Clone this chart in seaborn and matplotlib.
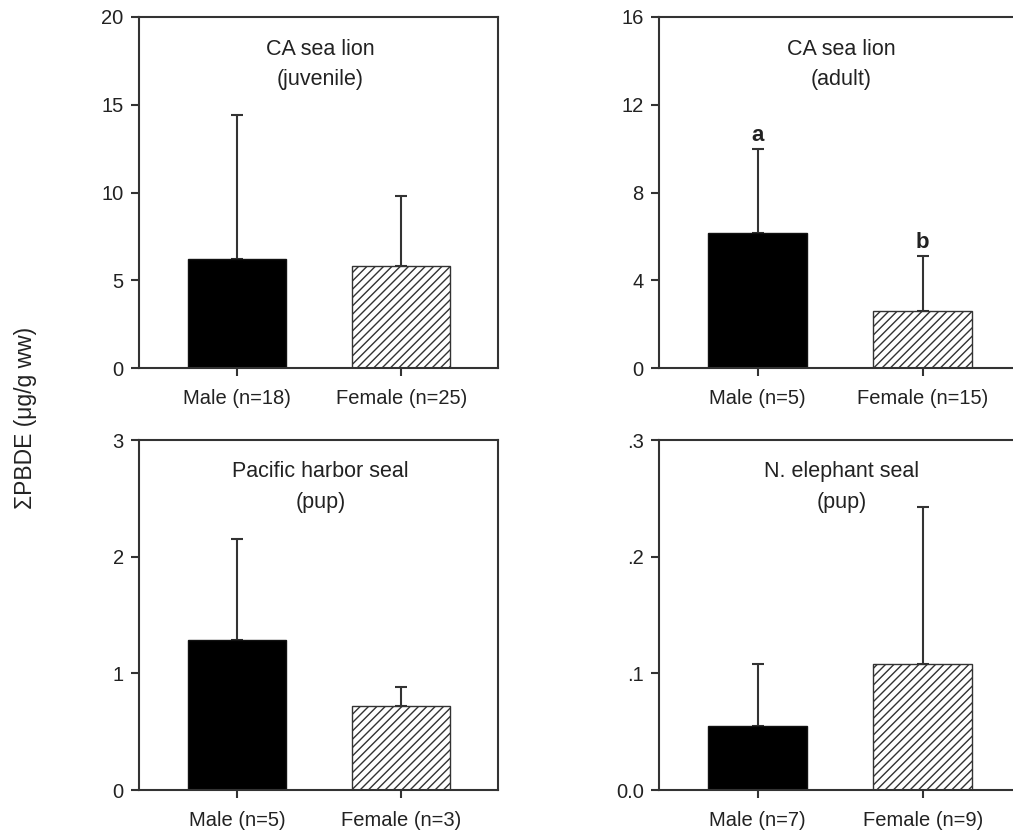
import matplotlib
matplotlib.use("Agg")
import matplotlib.pyplot as plt
import seaborn as sns
import pandas as pd

sns.set_style("white")
plt.rcParams['font.family'] = ['Liberation Sans', 'DejaVu Sans']
plt.rcParams['hatch.color'] = '#444444'
plt.rcParams['hatch.linewidth'] = 1.0

# ---- data ----
sexes = ["Male", "Female"]
panel_titles = ["CA sea lion\n(juvenile)", "CA sea lion\n(adult)",
                "Pacific harbor seal\n(pup)", "N. elephant seal\n(pup)"]
n_juv = [18, 25]
n_adult = [5, 15]
n_harbor = [5, 3]
n_eseal = [7, 9]
mean_juv = [6.2, 5.8]
err_juv = [14.4, 9.8]          # top of error bar
mean_adult = [6.15, 2.6]
err_adult = [10.0, 5.1]
mean_harbor = [1.29, 0.72]
err_harbor = [2.15, 0.88]
mean_eseal = [0.055, 0.108]
err_eseal = [0.108, 0.243]
sig_adult = ["a", "b"]

ylims = [(0, 20), (0, 16), (0, 3), (0, 0.3)]
yticks = [[0, 5, 10, 15, 20], [0, 4, 8, 12, 16], [0, 1, 2, 3], [0, 0.1, 0.2, 0.3]]
yticklabels = [["0", "5", "10", "15", "20"], ["0", "4", "8", "12", "16"],
               ["0", "1", "2", "3"], ["0.0", ".1", ".2", ".3"]]

panels = [(n_juv, mean_juv, err_juv), (n_adult, mean_adult, err_adult),
          (n_harbor, mean_harbor, err_harbor), (n_eseal, mean_eseal, err_eseal)]

W, H = 1013, 835
fig = plt.figure(figsize=(W / 100, H / 100), dpi=100)

# axes pixel boxes: left, top, right, bottom
boxes = [(139, 17, 498, 368), (659, 17, 1020, 368),
         (139, 440, 498, 790), (659, 440, 1020, 790)]

edge = '#333333'
for i, ((ns, means, tops), box) in enumerate(zip(panels, boxes)):
    l, t, r, b = box
    ax = fig.add_axes([l / W, 1 - b / H, (r - l) / W, (b - t) / H])
    labels = [f"{s} (n={n})" for s, n in zip(sexes, ns)]
    df = pd.DataFrame({"group": labels, "value": means})
    sns.barplot(data=df, x="group", y="value", ax=ax, width=0.6,
                palette=["black", "white"], hue="group", legend=False,
                edgecolor='black', linewidth=1.0, errorbar=None)
    ax.patches[1].set_hatch('////')
    ax.patches[1].set_edgecolor('#333333')
    ax.patches[0].set_edgecolor('#111111')
    upper = [tp - m for tp, m in zip(tops, means)]
    ax.errorbar([0, 1], means, yerr=[[0, 0], upper], fmt='none',
                ecolor='#333333', elinewidth=1.5, capsize=4.3, capthick=1.5, zorder=1)
    for p in ax.patches:
        p.set_zorder(2)
    ax.set_xlim(-0.598, 1.59)
    ax.set_ylim(*ylims[i])
    ax.set_yticks(yticks[i])
    ax.set_yticklabels(yticklabels[i])
    ax.set_xlabel("")
    ax.set_ylabel("")
    for s in ax.spines.values():
        s.set_visible(True)
        s.set_color(edge)
        s.set_linewidth(1.5)
    ax.tick_params(axis='both', direction='out', length=6, width=1.5,
                   color=edge, labelsize=14.5, labelcolor='#222222',
                   left=True, bottom=True, pad=5)
    ax.tick_params(axis='x', pad=9)
    ax.text(0.505, 0.865, panel_titles[i], transform=ax.transAxes,
            ha='center', va='center', fontsize=15.5, color='#222222',
            linespacing=1.6)
    if i == 1:
        for xi, (tp, lab) in enumerate(zip(tops, sig_adult)):
            ax.annotate(lab, (xi, tp), xytext=(0, 2), textcoords='offset points',
                        ha='center', va='bottom', fontsize=16, fontweight='bold',
                        color='#222222')

fig.text(0.0247, 0.5, "ΣPBDE (μg/g ww)", rotation=90, ha='center', va='center',
         fontsize=16.5, color='#222222')

fig.savefig("out.png", dpi=100)
